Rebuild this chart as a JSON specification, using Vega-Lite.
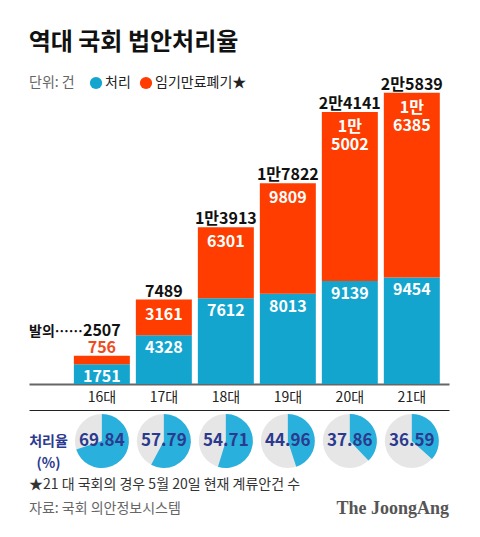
{
  "$schema": "https://vega.github.io/schema/vega-lite/v6.json",
  "background": "white",
  "padding": {"left": 28, "right": 30, "top": 31, "bottom": 10},
  "config": {
    "view": {"stroke": null},
    "font": "Noto Sans CJK KR",
    "title": {"font": "Noto Sans CJK KR"}
  },
  "title": {
    "text": "역대 국회 법안처리율",
    "anchor": "start",
    "fontSize": 24,
    "fontWeight": "bold",
    "color": "#111111",
    "offset": 21
  },
  "datasets": {
    "bills": [
      {"대": "16대", "처리": 1751, "임기만료폐기": 756, "발의": 2507, "발의표시": "2507", "폐기표시": "756", "처리율": 69.84},
      {"대": "17대", "처리": 4328, "임기만료폐기": 3161, "발의": 7489, "발의표시": "7489", "폐기표시": "3161", "처리율": 57.79},
      {"대": "18대", "처리": 7612, "임기만료폐기": 6301, "발의": 13913, "발의표시": "1만3913", "폐기표시": "6301", "처리율": 54.71},
      {"대": "19대", "처리": 8013, "임기만료폐기": 9809, "발의": 17822, "발의표시": "1만7822", "폐기표시": "9809", "처리율": 44.96},
      {"대": "20대", "처리": 9139, "임기만료폐기": 15002, "발의": 24141, "발의표시": "2만4141", "폐기표시": "1만\n5002", "처리율": 37.86},
      {"대": "21대", "처리": 9454, "임기만료폐기": 16385, "발의": 25839, "발의표시": "2만5839", "폐기표시": "1만\n6385", "처리율": 36.59}
    ],
    "notes": [
      {"줄": "1", "위치": "왼쪽", "글": "★21 대 국회의 경우 5월 20일 현재 계류안건 수"},
      {"줄": "2", "위치": "왼쪽", "글": "자료: 국회 의안정보시스템"},
      {"줄": "2", "위치": "오른쪽", "글": "The JoongAng"}
    ]
  },
  "spacing": 6,
  "vconcat": [
    {
      "width": 420,
      "height": 293,
      "data": {"name": "bills"},
      "encoding": {
        "x": {
          "field": "대",
          "type": "nominal",
          "sort": null,
          "scale": {"type": "band", "paddingInner": 0.097, "paddingOuter": 0.436, "align": 0.83},
          "axis": {
            "title": null,
            "ticks": false,
            "domainColor": "#666666",
            "domainWidth": 2,
            "labelAngle": 0,
            "labelFontSize": 14,
            "labelColor": "#222222",
            "labelPadding": 6
          }
        }
      },
      "layer": [
        {
          "transform": [{"fold": ["처리", "임기만료폐기"], "as": ["구분", "건수"]}],
          "mark": {"type": "bar"},
          "encoding": {
            "y": {
              "field": "건수",
              "type": "quantitative",
              "stack": "zero",
              "scale": {"domain": [0, 26000], "nice": false},
              "axis": null
            },
            "color": {
              "field": "구분",
              "type": "nominal",
              "sort": ["처리", "임기만료폐기"],
              "scale": {"domain": ["처리", "임기만료폐기"], "range": ["#14A5CF", "#FF3D00"]},
              "legend": {
                "orient": "none",
                "legendX": 0,
                "legendY": -15,
                "direction": "horizontal",
                "title": "단위: 건",
                "titleOrient": "left",
                "titleFontSize": 14,
                "titleFontWeight": "normal",
                "titleColor": "#666666",
                "titlePadding": 14,
                "titleBaseline": "middle",
                "labelFontSize": 14,
                "labelColor": "#222222",
                "labelOffset": 2,
                "columnPadding": 8,
                "symbolType": "circle",
                "symbolSize": 150,
                "symbolStrokeWidth": 0,
                "labelExpr": "datum.label == '임기만료폐기' ? '임기만료폐기★' : datum.label"
              }
            },
            "order": {"field": "구분", "sort": "descending"}
          }
        },
        {
          "mark": {"type": "text", "baseline": "alphabetic", "dy": 18, "fontSize": 16, "fontWeight": "bold", "color": "white"},
          "encoding": {
            "y": {"field": "처리", "type": "quantitative"},
            "text": {"field": "처리", "type": "quantitative", "format": "d"}
          }
        },
        {
          "transform": [{"filter": "datum.임기만료폐기 >= 1000"}],
          "mark": {"type": "text", "baseline": "alphabetic", "dy": 20, "fontSize": 16, "fontWeight": "bold", "color": "white", "lineBreak": "\n", "lineHeight": 18},
          "encoding": {
            "y": {"field": "발의", "type": "quantitative"},
            "text": {"field": "폐기표시", "type": "nominal"}
          }
        },
        {
          "transform": [{"filter": "datum.임기만료폐기 < 1000"}],
          "mark": {"type": "text", "baseline": "alphabetic", "dy": -3, "fontSize": 16, "fontWeight": "bold", "color": "#EE4B1F"},
          "encoding": {
            "y": {"field": "발의", "type": "quantitative"},
            "text": {"field": "폐기표시", "type": "nominal"}
          }
        },
        {
          "transform": [{"filter": "datum.임기만료폐기 >= 1000"}],
          "mark": {"type": "text", "baseline": "alphabetic", "dy": -3, "fontSize": 16, "fontWeight": "bold", "color": "#111111"},
          "encoding": {
            "y": {"field": "발의", "type": "quantitative"},
            "text": {"field": "발의표시", "type": "nominal"}
          }
        },
        {
          "transform": [{"filter": "datum.임기만료폐기 < 1000"}],
          "mark": {"type": "text", "baseline": "alphabetic", "dy": -20, "fontSize": 16, "fontWeight": "bold", "color": "#111111"},
          "encoding": {
            "y": {"field": "발의", "type": "quantitative"},
            "text": {"field": "발의표시", "type": "nominal"}
          }
        },
        {
          "transform": [{"filter": "datum.임기만료폐기 < 1000"}],
          "mark": {"type": "text", "baseline": "alphabetic", "align": "right", "dx": -19, "dy": -20, "fontSize": 14, "fontWeight": "bold", "color": "#111111", "text": "발의……"},
          "encoding": {
            "y": {"field": "발의", "type": "quantitative"}
          }
        }
      ]
    },
    {
      "width": 420,
      "height": 62,
      "data": {"name": "bills"},
      "encoding": {
        "x": {
          "field": "대",
          "type": "nominal",
          "sort": null,
          "scale": {"type": "band", "paddingInner": 0.097, "paddingOuter": 0.436, "align": 0.83},
          "axis": {
            "orient": "top",
            "title": null,
            "labels": false,
            "ticks": false,
            "domainColor": "#222222",
            "domainWidth": 1
          }
        },
        "y": {
          "datum": "처리율 (%)",
          "type": "nominal",
          "scale": {"type": "point", "padding": 0.5},
          "axis": {
            "orient": "left",
            "offset": -19,
            "title": null,
            "domain": false,
            "ticks": false,
            "tickSize": 0,
            "labelPadding": 0,
            "labelAlign": "center",
            "labelBaseline": "middle",
            "labelFontSize": 14,
            "labelFontWeight": "bold",
            "labelColor": "#2B3A8E",
            "labelLineHeight": 22,
            "labelExpr": "split(datum.label, ' ')"
          }
        }
      },
      "layer": [
        {
          "mark": {"type": "arc", "radius": 27, "theta": 0, "theta2": 6.2832, "color": "#E6E6E6"}
        },
        {
          "mark": {"type": "arc", "radius": 27, "color": "#2AB0DC"},
          "encoding": {
            "theta": {
              "field": "처리율",
              "type": "quantitative",
              "stack": null,
              "scale": {"domain": [0, 100], "range": [0, 6.2832]}
            },
            "theta2": {"datum": 0}
          }
        },
        {
          "mark": {"type": "text", "fontSize": 17, "fontWeight": "bold", "color": "#2B3A8E"},
          "encoding": {
            "text": {"field": "처리율", "type": "quantitative", "format": ".2f"}
          }
        }
      ]
    },
    {
      "width": 420,
      "height": 36,
      "data": {"name": "notes"},
      "encoding": {
        "x": {"field": "위치", "type": "nominal", "scale": {"type": "point", "domain": ["왼쪽", "오른쪽"], "padding": 0}, "axis": null},
        "y": {"field": "줄", "type": "nominal", "scale": {"type": "point", "domain": ["1", "2"], "padding": 0.25}, "axis": null},
        "text": {"field": "글", "type": "nominal"}
      },
      "layer": [
        {
          "transform": [{"filter": "datum.위치 == '왼쪽'"}],
          "mark": {"type": "text", "align": "left", "baseline": "middle", "fontSize": 14},
          "encoding": {
            "color": {"condition": {"test": "datum.줄 == '1'", "value": "#333333"}, "value": "#666666"}
          }
        },
        {
          "transform": [{"filter": "datum.위치 == '오른쪽'"}],
          "mark": {"type": "text", "align": "right", "baseline": "middle", "fontSize": 18, "fontWeight": "bold", "font": "Liberation Serif", "color": "#555555"}
        }
      ]
    }
  ]
}
